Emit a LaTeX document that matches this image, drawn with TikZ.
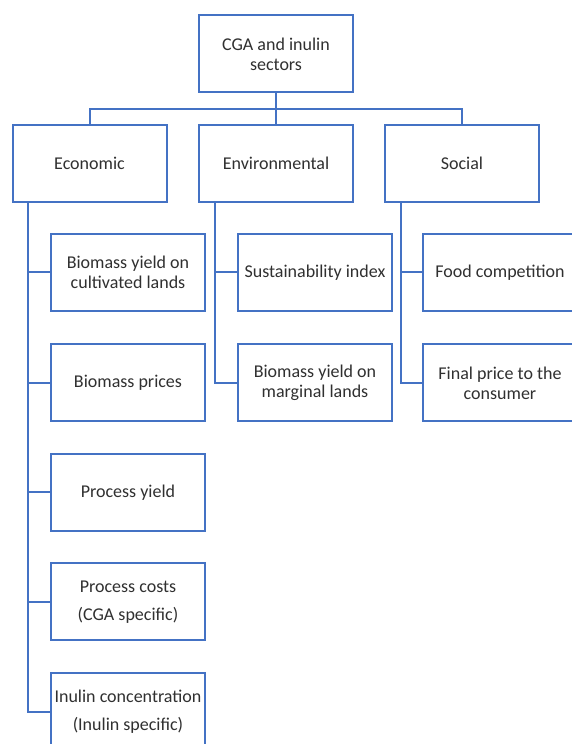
\documentclass[tikz,border=0pt]{standalone}
\usepackage{fontspec}
\setmainfont{Carlito}
\definecolor{boxblue}{HTML}{4472C4}
\definecolor{txtgray}{HTML}{303030}
\begin{document}
\begin{tikzpicture}[x=1pt,y=1pt,
  box/.style={draw=boxblue, line width=2pt, fill=white, rectangle,
    minimum width=154pt, minimum height=77pt, inner sep=0pt,
    align=center, text=txtgray, font=\fontsize{18}{20}\selectfont},
  link/.style={draw=boxblue, line width=2pt}]
\useasboundingbox (0,0) rectangle (572,744);
\clip (0,0) rectangle (572,744);
\fill[white] (0,0) rectangle (572,744);
% top
\node[box] (top) at (276,690) {CGA and inulin\\sectors};
% level 2
\node[box] (econ) at (89.5,580.5) {Economic};
\node[box] (env) at (276,580.5) {Environmental};
\node[box] (soc) at (462,580.5) {Social};
% economic children
\node[box] (e1) at (128,471.5) {Biomass yield on\\cultivated lands};
\node[box] (e2) at (128,361) {Biomass prices};
\node[box] (e3) at (128,251.5) {Process yield};
\node[box] (e4) at (128,142) {Process costs\\[8pt](CGA specific)};
\node[box] (e5) at (128,32) {Inulin concentration\\[8pt](Inulin specific)};
% environmental children
\node[box] (v1) at (315,471.5) {Sustainability index};
\node[box] (v2) at (315,361) {Biomass yield on\\marginal lands};
% social children
\node[box] (s1) at (500,471.5) {Food competition};
\node[box] (s2) at (500,361) {Final price to the\\consumer};
% bus
\coordinate (bus) at (0,635);
\coordinate (et) at (28,0);
\coordinate (vt) at (215,0);
\coordinate (st) at (401,0);
\draw[link] (top.south) -- (env.north);
\draw[link] (econ.north) |- (soc.north |- bus) -- (soc.north);
% trunks
\draw[link] (et |- econ.south) |- (e5.west);
\draw[link] (et |- e1.west) -- (e1.west);
\draw[link] (et |- e2.west) -- (e2.west);
\draw[link] (et |- e3.west) -- (e3.west);
\draw[link] (et |- e4.west) -- (e4.west);
\draw[link] (vt |- env.south) |- (v2.west);
\draw[link] (vt |- v1.west) -- (v1.west);
\draw[link] (st |- soc.south) |- (s2.west);
\draw[link] (st |- s1.west) -- (s1.west);
\end{tikzpicture}
\end{document}
